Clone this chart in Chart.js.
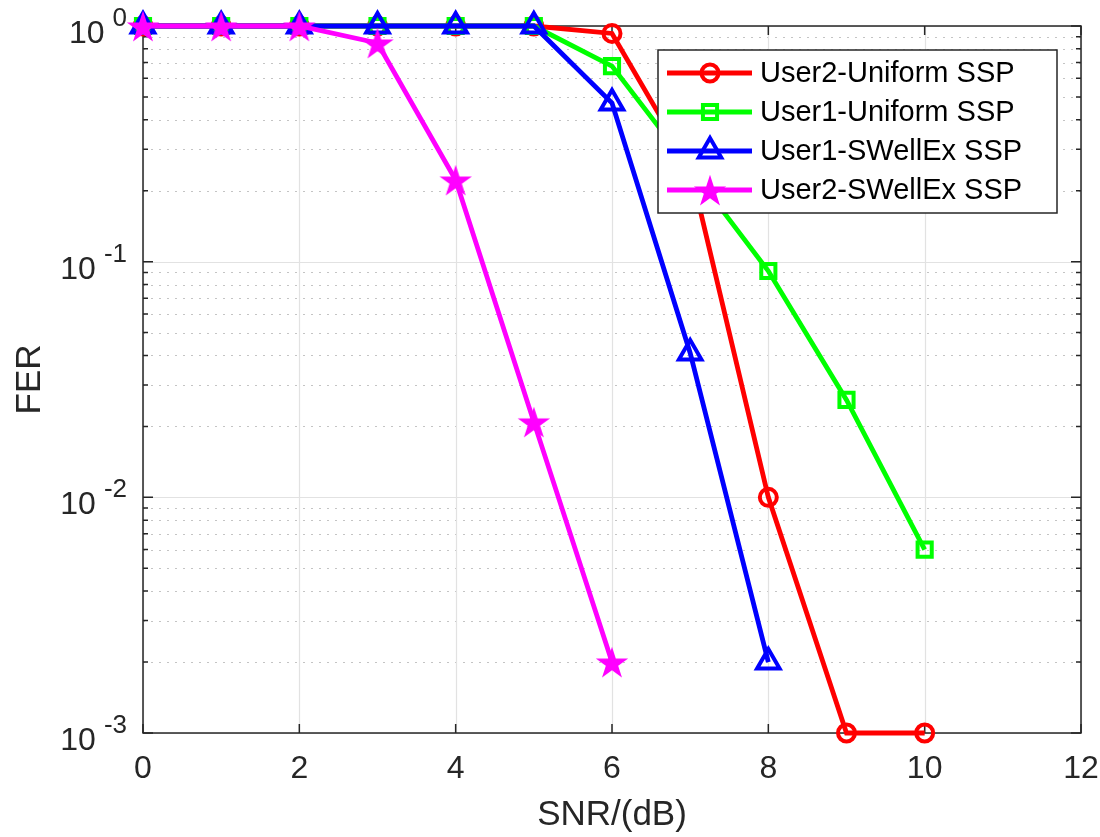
<!DOCTYPE html>
<html>
<head>
<meta charset="utf-8">
<script src="https://cdn.jsdelivr.net/npm/chart.js@4/dist/chart.umd.min.js"></script>
<style>
  html, body { margin: 0; padding: 0; background: #fff; }
  #wrap { width: 1100px; height: 837px; position: relative; }
</style>
</head>
<body>
<div id="wrap"><canvas id="fer-chart"></canvas></div>
<script>
// FER vs SNR curves (log scale)

// SNR points
const snrLong = [0, 1, 2, 3, 4, 5, 6, 7, 8, 9, 10];
const snrBlue = [0, 1, 2, 3, 4, 5, 6, 7, 8];
const snrMagenta = [0, 1, 2, 3, 4, 5, 6];

// FER values per curve
const user2Uniform = [1, 1, 1, 1, 1, 1, 0.93, 0.25, 0.01, 0.001, 0.001];
const user1Uniform = [1, 1, 1, 1, 1, 1, 0.676, 0.25, 0.0913, 0.0259, 0.006];
const user1SWellEx = [1, 1, 1, 1, 1, 1, 0.471, 0.041, 0.002];
const user2SWellEx = [1, 1, 1, 0.847, 0.222, 0.0209, 0.002];

const seriesLabels = ['User2-Uniform SSP', 'User1-Uniform SSP', 'User1-SWellEx SSP', 'User2-SWellEx SSP'];
const xTicks = [0, 2, 4, 6, 8, 10, 12];
const yDecades = [0, -1, -2, -3];

const textColor = '#262626';
const fontFamily = 'Arial, "Liberation Sans", Helvetica, sans-serif';

// filled pentagram marker
function makeStar(color, r) {
  const size = Math.ceil(r * 2 + 4);
  const c = document.createElement('canvas');
  c.width = size;
  c.height = size;
  const g = c.getContext('2d');
  const cx = size / 2, cy = size / 2 + r * 0.1;
  const inner = r * 0.382;
  g.beginPath();
  for (let i = 0; i < 10; i++) {
    const rad = i % 2 === 0 ? r : inner;
    const a = -Math.PI / 2 + i * Math.PI / 5;
    const px = cx + rad * Math.cos(a);
    const py = cy + rad * Math.sin(a);
    i === 0 ? g.moveTo(px, py) : g.lineTo(px, py);
  }
  g.closePath();
  g.fillStyle = color;
  g.fill();
  return c;
}
const starImg = makeStar('#ff00ff', 17);

const toPoints = (xs, ys) => xs.map((x, i) => ({ x: x, y: ys[i] }));

const datasets = [
  {
    label: seriesLabels[0],
    data: toPoints(snrLong, user2Uniform),
    borderColor: '#ff0000',
    pointStyle: 'circle',
    pointRadius: 8.5,
    pointBorderWidth: 4,
    order: 4,
  },
  {
    label: seriesLabels[1],
    data: toPoints(snrLong, user1Uniform),
    borderColor: '#00ff00',
    pointStyle: 'rect',
    pointRadius: 10,
    pointBorderWidth: 4,
    order: 3,
  },
  {
    label: seriesLabels[2],
    data: toPoints(snrBlue, user1SWellEx),
    borderColor: '#0000ff',
    pointStyle: 'triangle',
    pointRadius: 13,
    pointBorderWidth: 4,
    order: 2,
  },
  {
    label: seriesLabels[3],
    data: toPoints(snrMagenta, user2SWellEx),
    borderColor: '#ff00ff',
    pointStyle: starImg,
    pointRadius: 17,
    pointBorderWidth: 0,
    order: 1,
  },
].map((d) => Object.assign({
  borderWidth: 4.8,
  backgroundColor: 'transparent',
  pointBackgroundColor: 'transparent',
  pointBorderColor: d.borderColor,
  tension: 0,
  clip: false,
}, d));

// grid, box and tick marks (MATLAB look)
const axesPlugin = {
  id: 'axesBox',
  beforeDatasetsDraw(chart) {
    const { ctx, chartArea: a, scales: { x, y } } = chart;
    ctx.save();
    // minor y grid (dotted)
    ctx.strokeStyle = '#c4c4c4';
    ctx.lineWidth = 1.2;
    ctx.setLineDash([2, 6]);
    for (let k = -3; k < 0; k++) {
      for (let m = 2; m <= 9; m++) {
        const py = Math.round(y.getPixelForValue(m * Math.pow(10, k))) + 0.5;
        ctx.beginPath();
        ctx.moveTo(a.left, py);
        ctx.lineTo(a.right, py);
        ctx.stroke();
      }
    }
    ctx.setLineDash([]);
    // major grid
    ctx.strokeStyle = '#e2e2e2';
    ctx.lineWidth = 1.2;
    xTicks.forEach((v) => {
      const px = Math.round(x.getPixelForValue(v)) + 0.5;
      ctx.beginPath();
      ctx.moveTo(px, a.top);
      ctx.lineTo(px, a.bottom);
      ctx.stroke();
    });
    yDecades.forEach((k) => {
      const py = Math.round(y.getPixelForValue(Math.pow(10, k))) + 0.5;
      ctx.beginPath();
      ctx.moveTo(a.left, py);
      ctx.lineTo(a.right, py);
      ctx.stroke();
    });
    // box
    ctx.strokeStyle = textColor;
    ctx.lineWidth = 1.5;
    ctx.strokeRect(a.left, a.top, a.right - a.left, a.bottom - a.top);
    // tick marks
    ctx.beginPath();
    xTicks.forEach((v) => {
      const px = x.getPixelForValue(v);
      ctx.moveTo(px, a.bottom);
      ctx.lineTo(px, a.bottom - 9);
      ctx.moveTo(px, a.top);
      ctx.lineTo(px, a.top + 9);
    });
    for (let k = -3; k <= 0; k++) {
      for (let m = 1; m <= 9; m++) {
        if (k === 0 && m > 1) break;
        const py = y.getPixelForValue(m * Math.pow(10, k));
        const len = m === 1 ? 10 : 5;
        ctx.moveTo(a.left, py);
        ctx.lineTo(a.left + len, py);
        ctx.moveTo(a.right, py);
        ctx.lineTo(a.right - len, py);
      }
    }
    ctx.stroke();
    ctx.restore();
  },
  afterDraw(chart) {
    const { ctx, chartArea: a, scales: { x, y } } = chart;
    ctx.save();
    ctx.fillStyle = textColor;
    // x tick labels
    ctx.font = '32px ' + fontFamily;
    ctx.textAlign = 'center';
    ctx.textBaseline = 'alphabetic';
    xTicks.forEach((v) => {
      ctx.fillText(String(v), x.getPixelForValue(v), a.bottom + 45);
    });
    // y tick labels 10^k
    yDecades.forEach((k) => {
      const py = y.getPixelForValue(Math.pow(10, k));
      const sup = String(k);
      ctx.font = '26px ' + fontFamily;
      ctx.textAlign = 'right';
      const supW = ctx.measureText(sup).width;
      ctx.fillText(sup, 127, py);
      ctx.font = '32px ' + fontFamily;
      ctx.fillText('10', 127 - supW - 8, py + 17);
    });
    // axis titles
    ctx.font = '35px ' + fontFamily;
    ctx.textAlign = 'center';
    ctx.fillText('SNR/(dB)', (a.left + a.right) / 2, 825);
    ctx.save();
    ctx.translate(40, (a.top + a.bottom) / 2);
    ctx.rotate(-Math.PI / 2);
    ctx.fillText('FER', 0, 0);
    ctx.restore();

    // legend box
    const box = { left: 658, top: 50, right: 1057, bottom: 213 };
    ctx.fillStyle = '#ffffff';
    ctx.fillRect(box.left, box.top, box.right - box.left, box.bottom - box.top);
    ctx.strokeStyle = textColor;
    ctx.lineWidth = 1.5;
    ctx.strokeRect(box.left, box.top, box.right - box.left, box.bottom - box.top);
    const rowY = [73, 112, 151, 190];
    chart.data.datasets.forEach((ds, i) => {
      const ly = rowY[i];
      ctx.strokeStyle = ds.borderColor;
      ctx.lineWidth = ds.borderWidth;
      ctx.beginPath();
      ctx.moveTo(667, ly);
      ctx.lineTo(752, ly);
      ctx.stroke();
      ctx.fillStyle = 'transparent';
      ctx.lineWidth = ds.pointBorderWidth;
      Chart.helpers.drawPoint(ctx, {
        pointStyle: ds.pointStyle,
        radius: ds.pointRadius,
        borderWidth: ds.pointBorderWidth,
        rotation: 0,
      }, 710, ly);
      ctx.fillStyle = '#000000';
      ctx.font = '29px ' + fontFamily;
      ctx.textAlign = 'left';
      ctx.textBaseline = 'middle';
      ctx.fillText(ds.label, 760, ly + 1);
    });
    ctx.restore();
  },
};

new Chart(document.querySelector('#fer-chart'), {
  type: 'line',
  data: { datasets: datasets },
  options: {
    responsive: true,
    maintainAspectRatio: false,
    animation: false,
    layout: { padding: { left: 143, right: 19, top: 26, bottom: 104 } },
    plugins: {
      legend: { display: false },
      tooltip: { enabled: false },
    },
    scales: {
      x: { type: 'linear', min: 0, max: 12, display: false },
      y: { type: 'logarithmic', min: 0.001, max: 1, display: false },
    },
  },
  plugins: [axesPlugin],
});
</script>
</body>
</html>
